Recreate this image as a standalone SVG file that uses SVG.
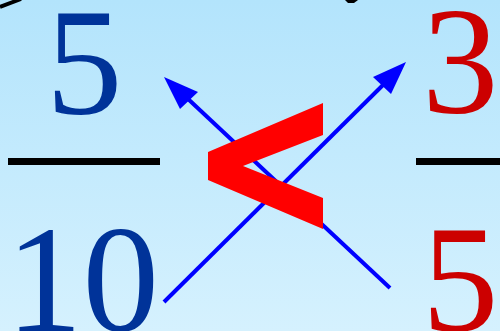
<svg xmlns="http://www.w3.org/2000/svg" width="500" height="331" viewBox="0 0 500 331">
<defs>
<linearGradient id="bg" x1="0" y1="0" x2="0" y2="1">
<stop offset="0" stop-color="#b3e4fc"/>
<stop offset="1" stop-color="#d5f1fe"/>
</linearGradient>
<style>
.blue{fill:#003399}
.red{fill:#cc0000}
.bar{fill:#000}
.arr{stroke:#0000ff;stroke-width:4;fill:none}
.head{fill:#0000ff}
</style>
</defs>
<rect x="0" y="0" width="500" height="331" fill="url(#bg)"/>
<g id="arcs">
<path d="M0,7 L21,-1" stroke="#000" stroke-width="4"/>
<path d="M345,0 L358,0 L354,3 L348,3 Z" fill="#000"/>
</g>
<g id="left-fraction">
<text class="blue" x="46" y="114" font-family="'Liberation Serif'" font-size="153">5</text>
<rect class="bar" x="8" y="158" width="152" height="7"/>
<text class="blue" x="6" y="331" font-family="'Liberation Serif'" font-size="153">10</text>
</g>
<g id="right-fraction">
<text class="red" x="422" y="113" font-family="'Liberation Serif'" font-size="153">3</text>
<rect class="bar" x="416" y="158" width="84" height="7"/>
<text class="red" x="422" y="331" font-family="'Liberation Serif'" font-size="153">5</text>
</g>
<g id="connectors">
<line class="arr" x1="390" y1="288" x2="187" y2="98"/>
<polygon class="head" points="164,77 198,92 180,109"/>
<line class="arr" x1="164" y1="302" x2="384" y2="84"/>
<polygon class="head" points="406,62 373,77 391,94"/>
</g>
<g id="less-than">
<polygon fill="#ff0000" points="208,152 323,103 323,135 243,166 323,198 323,229 208,180"/>
</g>
</svg>
